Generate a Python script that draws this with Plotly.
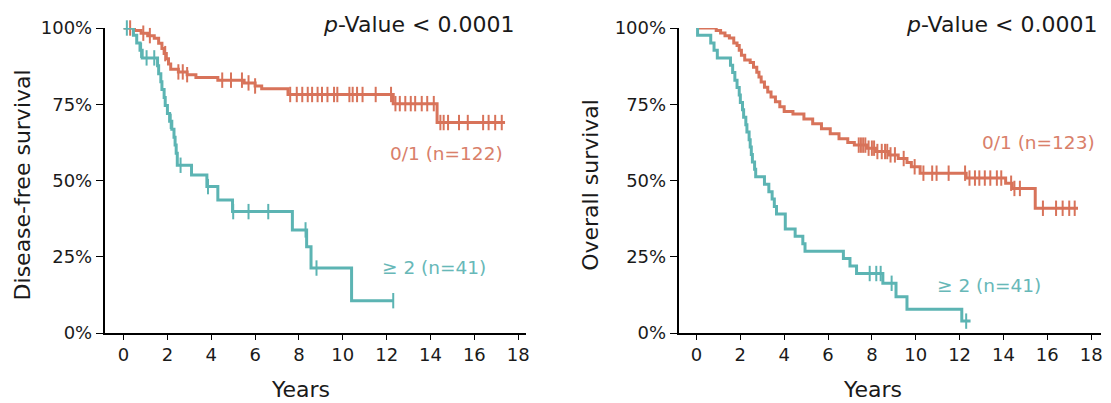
import numpy as np
import plotly.graph_objects as go

# ---------------- data ----------------
# Disease-free survival, group 0/1 (n=122)
dfs_low_t = [0, 0.5, 0.8, 1.1, 1.4, 1.6, 1.75, 1.85, 1.95, 2.05, 2.15, 2.5, 2.9, 3.3,
             4.3, 5.5, 6.0, 6.3, 7.5, 12.3, 14.3]
dfs_low_s = [100, 99.2, 98.3, 97.5, 96.6, 95.0, 93.3, 91.6, 89.9, 88.2, 86.5, 85.6, 84.7, 83.8,
             82.9, 82.0, 81.0, 80.1, 78.2, 75.2, 69.0]
dfs_low_end = 17.4
dfs_low_cens = [0.3, 0.9, 1.2, 1.9, 2.5, 2.7, 2.9, 4.5, 4.9, 5.4, 5.7, 6.0, 7.6, 7.9, 8.15,
                8.4, 8.6, 8.85, 9.05, 9.3, 9.6, 9.75, 10.3, 10.45, 10.65, 10.9, 11.5, 12.2,
                12.4, 12.6, 12.85, 13.1, 13.3, 13.6, 13.85, 14.15, 14.45, 14.6, 14.8, 15.3,
                15.7, 16.4, 16.65, 16.95, 17.25]

# Disease-free survival, group >=2 (n=41)
dfs_high_t = [0, 0.45, 0.6, 0.75, 0.85, 1.55, 1.6, 1.7, 1.75, 1.85, 1.9, 2.0, 2.1, 2.2, 2.3,
              2.35, 2.4, 2.45, 3.1, 3.8, 4.3, 4.97, 7.7, 8.35, 8.55, 10.4]
dfs_high_s = [100, 97.6, 95.1, 92.7, 90.2, 87.6, 85.0, 82.4, 79.8, 77.2, 74.6, 72.0, 69.4, 66.8,
              64.2, 61.6, 58.9, 55.0, 51.8, 48.0, 43.6, 39.8, 33.8, 28.3, 21.3, 10.6]
dfs_high_end = 12.3
dfs_high_cens = [0.15, 0.8, 1.05, 1.4, 2.15, 2.6, 3.85, 5.0, 5.7, 6.6, 8.3, 8.8, 12.3]

# Overall survival, group 0/1 (n=123)
os_low_t = [0, 0.9, 1.1, 1.3, 1.5, 1.7, 1.85, 1.95, 2.05, 2.2, 2.45, 2.6, 2.75, 2.85, 2.95,
            3.1, 3.25, 3.4, 3.6, 3.8, 4.0, 4.4, 4.9, 5.3, 5.7, 6.1, 6.5, 6.9, 7.2, 7.8, 8.2,
            8.8, 9.2, 9.6, 9.8, 10.2, 12.3, 14.1, 14.4, 15.45]
os_low_s = [100, 99.2, 98.4, 97.5, 96.7, 95.1, 94.3, 92.7, 91.1, 89.5, 88.7, 87.1, 85.5, 83.9,
            82.3, 80.6, 79.0, 77.4, 75.8, 74.2, 72.6, 71.8, 70.2, 68.6, 67.0, 65.3, 63.7, 62.5,
            61.6, 60.6, 59.5, 58.4, 57.2, 55.9, 54.5, 52.4, 50.8, 49.1, 47.4, 40.9]
os_low_end = 17.4
os_low_cens = [7.4, 7.5, 7.6, 7.7, 7.85, 8.0, 8.1, 8.25, 8.45, 8.6, 8.7, 8.85, 9.05, 9.45,
               9.95, 10.35, 10.75, 10.95, 11.5, 12.25, 12.45, 12.7, 12.9, 13.15, 13.4, 13.7,
               13.9, 14.35, 14.5, 14.75, 15.8, 16.4, 16.7, 17.0, 17.25]

# Overall survival, group >=2 (n=41)
os_high_t = [0, 0.05, 0.65, 0.8, 0.95, 1.55, 1.65, 1.75, 1.85, 1.95, 2.0, 2.1, 2.15, 2.25, 2.3,
             2.4, 2.45, 2.5, 2.55, 2.65, 2.7, 3.1, 3.3, 3.45, 3.55, 3.65, 4.05, 4.5, 4.85,
             4.95, 6.7, 7.0, 7.3, 8.5, 9.1, 9.6, 12.1]
os_high_s = [100, 97.6, 95.1, 92.7, 90.2, 87.8, 85.4, 82.9, 80.5, 78.0, 75.6, 73.2, 70.7, 68.3,
             65.9, 63.4, 61.0, 58.5, 56.1, 53.7, 51.2, 48.8, 46.3, 43.9, 41.5, 39.0, 34.1,
             31.7, 29.3, 26.8, 24.4, 22.0, 19.5, 16.3, 11.9, 7.8, 3.9]
os_high_end = 12.5
os_high_cens = [7.9, 8.2, 8.4, 8.9, 12.3]

x_ticks = [0, 2, 4, 6, 8, 10, 12, 14, 16, 18]
y_ticks = [0, 25, 50, 75, 100]
y_tick_text = ["0%", "25%", "50%", "75%", "100%"]

labels_low = ["0/1 (n=122)", "0/1 (n=123)"]
labels_high = ["\u2265 2 (n=41)", "\u2265 2 (n=41)"]
y_titles = ["Disease-free survival", "Overall survival"]
p_text = "<i>p</i>-Value < 0.0001"

# ---------------- style ----------------
ORANGE = "#D8735A"
TEAL = "#5CB4B3"
ORANGE_TXT = "#D9806A"
TEAL_TXT = "#67B8B8"
FONT = "DejaVu Sans"
TXT = "#1a1a1a"


def step_value(t, s, c):
    t = np.asarray(t)
    s = np.asarray(s)
    idx = np.searchsorted(t, np.asarray(c), side="right") - 1
    return s[idx]


fig = go.Figure()


def add_curve(t, s, end, cens, color, xa, ya):
    xs = list(t) + [end]
    ys = list(s) + [s[-1]]
    fig.add_trace(go.Scatter(x=xs, y=ys, mode="lines", line=dict(color=color, width=3, shape="hv"),
                             xaxis=xa, yaxis=ya, cliponaxis=False, showlegend=False,
                             hoverinfo="skip"))
    fig.add_trace(go.Scatter(x=cens, y=step_value(t, s, cens), mode="markers",
                             marker=dict(symbol="line-ns", size=11,
                                         line=dict(color=color, width=2)),
                             xaxis=xa, yaxis=ya, cliponaxis=False, showlegend=False,
                             hoverinfo="skip"))


add_curve(dfs_low_t, dfs_low_s, dfs_low_end, dfs_low_cens, ORANGE, "x", "y")
add_curve(dfs_high_t, dfs_high_s, dfs_high_end, dfs_high_cens, TEAL, "x", "y")
add_curve(os_low_t, os_low_s, os_low_end, os_low_cens, ORANGE, "x2", "y2")
add_curve(os_high_t, os_high_s, os_high_end, os_high_cens, TEAL, "x2", "y2")

W, H = 1111, 403

axis_common = dict(showgrid=False, zeroline=False, showline=True, linecolor="black",
                   linewidth=1.6, ticks="outside", tickcolor="black", tickwidth=1.4,
                   tickfont=dict(family=FONT, size=18, color=TXT))

fig.update_layout(
    width=W, height=H,
    margin=dict(l=0, r=0, t=28, b=70),
    paper_bgcolor="white", plot_bgcolor="white",
    xaxis=dict(domain=[105 / W, 528 / W], range=[-0.864, 18.36], tickvals=x_ticks,
               ticklen=5, anchor="y", **axis_common),
    yaxis=dict(domain=[0, 1], range=[0, 100], tickvals=y_ticks, ticktext=y_tick_text,
               ticklen=7, anchor="x", **axis_common),
    xaxis2=dict(domain=[681 / W, 1105 / W], range=[-0.818, 18.45], tickvals=x_ticks,
                ticklen=5, anchor="y2", **axis_common),
    yaxis2=dict(domain=[0, 1], range=[0, 100], tickvals=y_ticks, ticktext=y_tick_text,
                ticklen=7, anchor="x2", **axis_common),
)

ann = []
# p-values (paper coordinates)
for xr in [518, 1103]:
    ann.append(dict(x=xr / W, y=(333 - 25) / 305, xref="paper", yref="paper", text=p_text,
                    showarrow=False, xanchor="right", yanchor="middle",
                    font=dict(family=FONT, size=22, color=TXT)))
# group labels
ann.append(dict(x=17.4, y=58.7, xref="x", yref="y", text=labels_low[0], showarrow=False,
                xanchor="right", yanchor="middle", font=dict(family=FONT, size=18.5, color=ORANGE_TXT)))
ann.append(dict(x=11.7, y=21.6, xref="x", yref="y", text=labels_high[0], showarrow=False,
                xanchor="left", yanchor="middle", font=dict(family=FONT, size=18.5, color=TEAL_TXT)))
ann.append(dict(x=18.25, y=62.6, xref="x2", yref="y2", text=labels_low[1], showarrow=False,
                xanchor="right", yanchor="middle", font=dict(family=FONT, size=18.5, color=ORANGE_TXT)))
ann.append(dict(x=10.86, y=15.7, xref="x2", yref="y2", text=labels_high[1], showarrow=False,
                xanchor="left", yanchor="middle", font=dict(family=FONT, size=18.5, color=TEAL_TXT)))
# axis titles
for xp, t in zip([22.5, 592], y_titles):
    ann.append(dict(x=xp / W, y=(333 - 185) / 305, xref="paper", yref="paper", text=t,
                    showarrow=False, textangle=-90, xanchor="center", yanchor="middle",
                    font=dict(family=FONT, size=22, color=TXT)))
for xp in [302, 876]:
    ann.append(dict(x=xp / W, y=(333 - 389) / 305, xref="paper", yref="paper", text="Years",
                    showarrow=False, xanchor="center", yanchor="middle",
                    font=dict(family=FONT, size=22, color=TXT)))
fig.update_layout(annotations=ann)

fig.write_html("out.html", config={"displayModeBar": False},
               post_script="document.body.style.margin='0';")
